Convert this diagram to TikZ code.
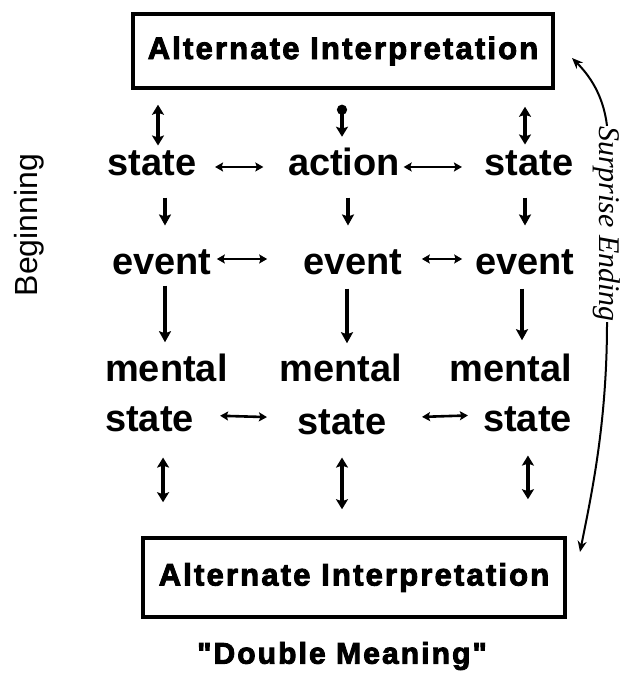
\documentclass[tikz,border=0pt]{standalone}
\usepackage{fontspec}
\setmainfont{Liberation Sans}
\newfontfamily\bodyfont{Liberation Sans}
\newfontfamily\boxfont{Liberation Sans}[LetterSpace=7,FakeBold=3]
\newfontfamily\handfont{Liberation Serif}
\usetikzlibrary{arrows.meta}
\tikzset{
  body/.style={font=\bodyfont\bfseries\fontsize{38}{38}\selectfont, inner sep=0pt},
  ibox/.style={draw, line width=3.5pt, inner sep=0pt, minimum width=420pt, minimum height=76pt,
    font=\boxfont\bfseries\fontsize{31}{31}\selectfont},
  varr/.style={line width=3.5pt, -{Stealth[length=11pt,width=12pt,inset=2pt]}},
  vbi/.style={line width=3.5pt, {Stealth[length=10pt,width=12pt,inset=2pt]}-{Stealth[length=10pt,width=12pt,inset=2pt]}},
  vdot/.style={line width=3.5pt, {Circle[length=10pt]}-{Stealth[length=10pt,width=12pt,inset=2pt]}},
  harr/.style={line width=2.6pt, {Stealth[length=8pt,width=9pt,inset=1.5pt]}-{Stealth[length=8pt,width=9pt,inset=1.5pt]}},
  hand/.style={line width=2pt, -{Stealth[length=11pt,width=9pt]}}
}
\begin{document}
\begin{tikzpicture}[x=1pt,y=1pt]
\useasboundingbox (0,0) rectangle (640,676);
% boxes and labels
\node[ibox, minimum width=420pt, minimum height=74pt] (top) at (343,625) {Alternate Interpretation};
\node[ibox, minimum width=422pt, minimum height=79pt] (bot) at (354,98.5) {Alternate Interpretation};
\node[inner sep=0pt, font=\boxfont\bfseries\fontsize{30}{30}\selectfont] (dm) at (342,20) {"Double Meaning"};
\node[inner sep=0pt, anchor=base, rotate=90, font=\fontsize{32}{32}\selectfont] (beg) at (37,451) {Beginning};
% grid
\node[body, anchor=base] (s1) at (152,500) {state};
\node[body, anchor=base] (a) at (344,500) {action};
\node[body, anchor=base] (s3) at (529,500) {state};
\node[body, anchor=base] (e1) at (162,401) {event};
\node[body, anchor=base] (e2) at (353,401) {event};
\node[body, anchor=base] (e3) at (525,401) {event};
\node[body, anchor=base west] (m1) at (105,294) {mental};
\node[body, anchor=base] (m2) at (341,294) {mental};
\node[body, anchor=base east] (m3) at (572,294) {mental};
\node[body, anchor=base west] (ms1) at (105,244) {state};
\node[body, anchor=base] (ms2) at (342,241) {state};
\node[body, anchor=base east] (ms3) at (572,244) {state};
% top vertical arrows
\draw[vbi, shorten <=15pt, shorten >=5.5pt] ([xshift=6pt]s1.north |- top.south) -- ([xshift=6pt]s1.north);
\draw[vdot, shorten <=15pt, shorten >=11.5pt] ([xshift=-2pt]a.north |- top.south) -- ([xshift=-2pt]a.north);
\draw[vbi, shorten <=17pt, shorten >=6.5pt] ([xshift=-4pt]s3.north |- top.south) -- ([xshift=-4pt]s3.north);
% row 1 -> row 2
\draw[varr, shorten <=21pt, shorten >=24.5pt] ([xshift=13pt]s1.south) -- ([xshift=13pt]s1.south |- e1.north);
\draw[varr, shorten <=21pt, shorten >=24.5pt] ([xshift=4pt]a.south) -- ([xshift=4pt]a.south |- e2.north);
\draw[varr, shorten <=21pt, shorten >=24.5pt] ([xshift=-4pt]s3.south) -- ([xshift=-4pt]s3.south |- e3.north);
% row 2 -> row 3
\draw[varr, shorten <=10pt, shorten >=12pt] ([xshift=3pt]e1.south) -- ([xshift=3pt]e1.south |- m1.north);
\draw[varr, shorten <=13pt, shorten >=11pt] ([xshift=-6pt]e2.south) -- ([xshift=-6pt]e2.south |- m2.north);
\draw[varr, shorten <=13pt, shorten >=14pt] ([xshift=-3pt]e3.south) -- ([xshift=-3pt]e3.south |- m3.north);
% row 3 -> bottom box
\draw[vbi, shorten <=25pt, shorten >=34pt] ([xshift=13.5pt]ms1.south) -- ([xshift=13.5pt]ms1.south |- bot.north);
\draw[vbi, shorten <=22pt, shorten >=27pt] (ms2.south) -- (ms2.south |- bot.north);
\draw[vbi, shorten <=23pt, shorten >=37pt] ([xshift=0.5pt]ms3.south) -- ([xshift=0.5pt]ms3.south |- bot.north);
% horizontal arrows
\draw[harr, shorten <=18.5pt, shorten >=24.5pt] ([yshift=9pt]s1.base east) -- ([yshift=9pt]a.base west);
\draw[harr, shorten <=3.5pt, shorten >=22.5pt] ([yshift=9pt]a.base east) -- ([yshift=9pt]s3.base west);
\draw[harr, shorten <=5pt, shorten >=36pt] ([yshift=16pt]e1.base east) -- ([yshift=16pt]e2.base west);
\draw[harr, shorten <=19pt, shorten >=13pt] ([yshift=16pt]e2.base east) -- ([yshift=16pt]e3.base west);
\draw[harr, shorten <=26pt, shorten >=30.5pt] ([yshift=17pt]ms1.base east) -- ([yshift=17pt]ms2.base west);
\draw[harr, shorten <=35.5pt, shorten >=15pt] ([yshift=17pt]ms2.base east) -- ([yshift=17pt]ms3.base west);
% surprise ending
\node[inner sep=0pt, rotate=-90, font=\handfont\itshape\fontsize{30}{30}\selectfont] (se) at (607,452) {Surprise Ending};
\coordinate (tipA) at (572,618);
\coordinate (tipB) at (580,124);
\draw[hand] (se.west) .. controls +(-3,25) and +(22,-22) .. (tipA);
\draw[hand] (se.east) .. controls +(0,-100) and +(12,60) .. (tipB);
\end{tikzpicture}
\end{document}
